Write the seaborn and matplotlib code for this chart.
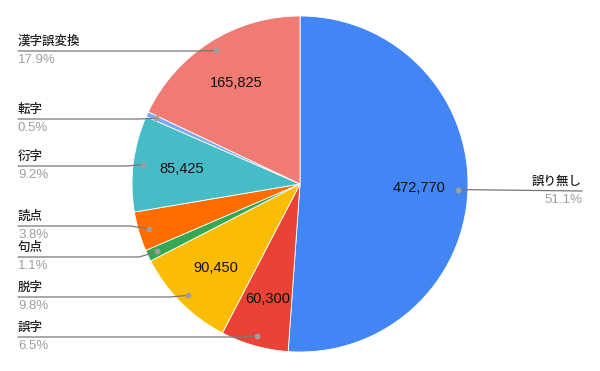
import numpy as np
import seaborn as sns
import matplotlib.pyplot as plt

# data
labels = ["誤り無し", "誤字", "脱字", "句点", "読点", "衍字", "転字", "漢字誤変換"]
values = [472770, 60300, 90450, 10180, 35160, 85425, 4630, 165825]
colors = ["#4285F4", "#EA4335", "#FBBC04", "#34A853", "#FF6D01", "#46BDC6", "#7BAAF7", "#F07B72"]

# layout: y (pixels from top) of each leader line, side of label
label_y = [191, 337, 297, 257, 226, 166, 119, 51]
label_side = ["R", "L", "L", "L", "L", "L", "L", "L"]

sns.set_theme(style="white")
plt.rcParams["font.family"] = ["Noto Sans CJK JP", "DejaVu Sans"]
num_font = ["Liberation Sans", "DejaVu Sans"]

fig = plt.figure(figsize=(6, 3.71), dpi=100)
ax = fig.add_axes([0, 0, 1, 1])

H = 371
cx, cy, R = 300, H - 184, 168
pal = sns.color_palette(colors)
wedges, _ = ax.pie(values, colors=pal, startangle=90, counterclock=False,
                   center=(cx, cy), radius=R, frame=True,
                   wedgeprops=dict(edgecolor="white", linewidth=0.6))
ax.set_xlim(0, 600)
ax.set_ylim(0, 371)
ax.set_aspect("equal")
ax.axis("off")

total = sum(values)
for w, lab, v, ly, side in zip(wedges, labels, values, label_y, label_side):
    mid = np.deg2rad((w.theta1 + w.theta2) / 2)
    pct = v / total * 100
    # value label inside
    if pct > 5:
        ax.text(cx + 0.71 * R * np.cos(mid), cy + 0.71 * R * np.sin(mid), f"{v:,}",
                ha="center", va="center", fontsize=10.5, color="#111111", family=num_font)
    # leader line + dot
    dx = cx + 0.94 * R * np.cos(mid)
    dy = cy + 0.94 * R * np.sin(mid)
    y = H - ly
    if side == "L":
        ax.plot([18, dx - 18, dx], [y, y, dy], color="#777777", lw=0.9, zorder=3)
        tx, ha = 18, "left"
    else:
        ax.plot([dx, 582], [dy, y], color="#777777", lw=0.9, zorder=3)
        tx, ha = 582, "right"
    ax.scatter([dx], [dy], s=10, color="#9e9e9e", zorder=4)
    ax.text(tx, y + 3, lab, ha=ha, va="bottom", fontsize=9, color="#222222", fontweight="medium")
    ax.text(tx, y - 3, f"{pct:.1f}%", ha=ha, va="top", fontsize=9.5,
            color="#9e9e9e", family=num_font)

fig.savefig("out.png", dpi=100)
